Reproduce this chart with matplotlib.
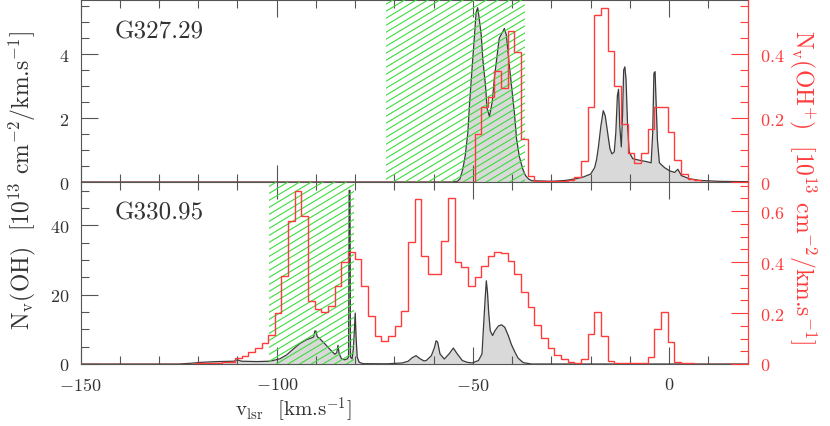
import numpy as np
import matplotlib
matplotlib.use("Agg")
import matplotlib.pyplot as plt
from matplotlib.collections import LineCollection
from matplotlib.ticker import MultipleLocator, FuncFormatter

plt.rcParams['font.family'] = ['cmr10', 'DejaVu Serif']
plt.rcParams['mathtext.fontset'] = 'cm'
plt.rcParams['axes.formatter.use_mathtext'] = True

# ---------------- data ----------------
sources = ["G327.29", "G330.95"]

# high-resolution OH spectra (velocity km/s, N_v in 1e13 cm-2/km/s)
black_top_v = [-150, -56, -54, -53.3, -52.6, -52.0, -51.3, -50.9, -50.2, -49.6, -49.2, -48.8, -48.4,
               -47.9, -47.5, -46.8, -46.4, -45.8, -45.1, -44.5, -43.9, -43.3, -42.4, -42.0, -41.5,
               -40.7, -40.0, -39.4, -38.9, -38.2, -37.3, -36.6, -35.8, -35.0, -30, -26.4, -23.9,
               -22, -20, -19, -18.5, -18.0, -17.4, -16.8, -16.3, -15.7, -15.1, -14.6, -14.0, -13.6,
               -13.2, -12.9, -12.6, -12.2, -11.9, -11.6, -11.3, -11.0, -10.6, -10.2, -9.3, -7.6,
               -5.9, -4.6, -4.2, -3.9, -3.6, -3.4, -3.0, -2.5, -1.2, 0.1, 1.4, 2.2, 3.1, 5.2, 7.7,
               12.8, 20]
black_top_n = [0, 0, 0.02, 0.1, 0.4, 0.8, 1.55, 2.4, 3.6, 4.6, 5.3, 5.45, 5.1,
               4.6, 3.85, 3.0, 2.3, 2.05, 2.5, 3.3, 3.9, 4.5, 4.7, 4.8, 4.6,
               3.6, 2.8, 2.1, 1.35, 0.8, 0.4, 0.2, 0.09, 0.04, 0.02, 0.05, 0.1,
               0.15, 0.25, 0.45, 0.7, 1.13, 1.76, 2.23, 2.07, 1.55, 1.04, 0.88, 0.94, 1.55,
               2.7, 2.9, 1.76, 1.1, 2.07, 3.5, 3.6, 3.2, 1.76, 0.94, 0.73, 0.68,
               0.64, 0.6, 1.55, 3.4, 3.45, 2.7, 1.3, 0.6, 0.45, 0.35, 0.3, 0.4, 0.2, 0.1, 0.05,
               0.02, 0.01]

black_bot_v = [-150, -125, -122, -119, -115, -111, -110, -109, -105, -102, -101, -99.2, -97.5,
               -95.9, -94.1, -92.4, -91.2, -90.6, -90.3, -90.0, -89.7, -89.2, -87.8, -86.5,
               -85.2, -84.7, -84.4, -84.1, -83.5, -82.7, -82.0, -81.7, -81.55, -81.35, -81.2,
               -80.8, -80.5, -80.3, -80.0, -79.8, -79.5, -79.0, -78.0, -72, -68, -66.5, -65.5,
               -64.5, -63.6, -62.5, -61.9, -60.6, -59.8, -59.4, -59.0, -58.4, -57.3, -56.1,
               -55.0, -54.0, -52.7, -51.5, -50.2, -48.6, -47.7, -47.3, -46.9, -46.6, -46.3,
               -46.0, -45.6, -45.0, -44.4, -43.5, -42.7, -41.9, -41.0, -40.2, -39.3, -38.5,
               -37.2, -35.1, 20]
black_bot_n = [0, 0, 0.2, 0.5, 0.7, 0.8, 1.2, 0.8, 0.7, 0.8, 1.0, 1.5, 2.6,
               4.2, 5.9, 7.0, 7.5, 7.8, 9.5, 9.5, 7.9, 7.5, 5.9, 4.3,
               2.8, 3.3, 5.4, 3.0, 1.5, 1.2, 1.5, 2.0, 50.1, 50.1, 2.0,
               1.5, 4.3, 8.0, 14.7, 8.0, 2.0, 0.5, 0.1, 0.05, 0.3, 0.8, 1.8,
               2.4, 1.6, 0.9, 1.0, 2.4, 4.8, 6.7, 6.3, 2.9, 1.44, 2.9,
               4.6, 2.9, 1.0, 0.5, 0.3, 1.0, 2.9, 11.0, 18.8, 24.0, 20.7,
               14.9, 9.6, 8.2, 9.6, 11.0, 11.3, 10.6, 8.2, 5.6, 3.4, 1.7,
               0.4, 0.0, 0.0]

# OH+ spectra: regular channels of width red_dv, first listed channel starts at red_*_start
red_grid_start = -149.67
red_grid_end = 19.93
red_dv = 1.696
red_top_start = -51.32
red_top = [0, 0.15, 0.234, 0.265, 0.348, 0.293, 0.473, 0.407, 0.134, 0.018,
           0.003, 0.002, 0.002, 0.002, 0.003, 0.007, 0.015, 0.067, 0.233, 0.523,
           0.543, 0.408, 0.30, 0.18, 0.09, 0.058, 0.09, 0.166, 0.233, 0.233,
           0.155, 0.07, 0.025, 0.01, 0.005]
red_bot_start = -120.84
red_bot = [0.002, 0.003, 0.004, 0.005, 0.006, 0.007, 0.022, 0.033, 0.048, 0.063,
           0.083, 0.115, 0.2, 0.346, 0.56, 0.68, 0.58, 0.248, 0.216, 0.203,
           0.229, 0.307, 0.399, 0.44, 0.41, 0.307, 0.19, 0.111, 0.091, 0.111,
           0.15, 0.209, 0.477, 0.647, 0.425, 0.353, 0.353, 0.484, 0.65, 0.40,
           0.38, 0.305, 0.34, 0.385, 0.425, 0.44, 0.435, 0.405, 0.353, 0.284,
           0.222, 0.154, 0.102, 0.062, 0.035, 0.02, 0.007, 0.005, 0.02, 0.118,
           0.205, 0.111, 0.013, 0.004, 0.004, 0.004, 0.004, 0.004, 0.026, 0.137,
           0.205, 0.088, 0.009, 0.003, 0.002, 0.001]

hatch_top = (-72.1, -36.7)
hatch_bot = (-102.0, -80.2)

xlim = (-150, 20)
ylim_left = [(0, 5.69), (0, 52.5)]
ylim_right = [(0, 0.569), (0, 0.714)]

# ---------------- style ----------------
GRAY = '#555555'
RED = '#ff3b3b'
GREEN = '#3cdc3c'
TXT = '#333333'

fig = plt.figure(figsize=(8.3, 4.27), dpi=100)
W, H = 830, 427
x0, x1 = 80.5, 747.7
axes_px = [(1, 183), (183, 365)]
axs = []
for (ytop, ybot) in axes_px:
    axs.append(fig.add_axes([x0 / W, 1 - ybot / H, (x1 - x0) / W, (ybot - ytop) / H]))


def full_red(start, vals):
    nb = int(round((red_grid_end - red_grid_start) / red_dv))
    i0 = int(round((start - red_grid_start) / red_dv))
    arr = np.zeros(nb)
    arr[i0:i0 + len(vals)] = vals
    edges = red_grid_start + red_dv * np.arange(nb + 1)
    return edges, arr


def add_hatch(ax, lo, hi):
    rect = ax.axvspan(lo, hi, facecolor='none', edgecolor='none', zorder=3)
    w = ax.bbox.width
    h = ax.bbox.height
    slope = 0.6
    sp = 7.0
    k = slope * w / h
    offs = np.arange(-k - 0.1, 1.1, sp / h)
    segs = [[(0, b), (1, b + k)] for b in offs]
    lc = LineCollection(segs, colors=GREEN, linewidths=0.8, transform=ax.transAxes, zorder=3)
    ax.add_collection(lc, autolim=False)
    lc.set_clip_path(rect)


fmt = FuncFormatter(lambda x, p: r'$%g$' % round(x, 6))

blacks = [(black_top_v, black_top_n), (black_bot_v, black_bot_n)]
reds = [(red_top_start, red_top), (red_bot_start, red_bot)]
hatches = [hatch_top, hatch_bot]
ymaj = [2, 20]
ymin = [0.5, 5]
label_y = [32, 213]

for i, ax in enumerate(axs):
    bv, bn = blacks[i]
    add_hatch(ax, *hatches[i])
    ax.fill_between(bv, bn, 0, color='#d9d9d9', lw=0, zorder=1)
    ax.plot(bv, bn, color='#3a3a3a', lw=0.9, zorder=2)
    ax.set_xlim(*xlim)
    ax.set_ylim(*ylim_left[i])
    ax.xaxis.set_major_locator(MultipleLocator(50))
    ax.xaxis.set_minor_locator(MultipleLocator(10))
    ax.yaxis.set_major_locator(MultipleLocator(ymaj[i]))
    ax.yaxis.set_minor_locator(MultipleLocator(ymin[i]))
    ax.xaxis.set_major_formatter(fmt)
    ax.yaxis.set_major_formatter(fmt)
    ax.tick_params(which='both', direction='in', top=True, right=False, colors=GRAY,
                   labelcolor=TXT, labelsize=13)
    ax.tick_params(which='major', length=12, width=0.8)
    ax.tick_params(which='minor', length=6, width=0.8)
    ax.tick_params(axis='y', pad=8)
    ax.tick_params(axis='x', pad=9)
    for s in ['left', 'top', 'bottom']:
        ax.spines[s].set_color(GRAY)
    ax.spines['right'].set_color(RED)
    if i == 0:
        ax.tick_params(labelbottom=False)

    axr = ax.twinx()
    start, vals = reds[i]
    edges, arr = full_red(start, vals)
    axr.stairs(arr, edges, color=RED, lw=1.0, baseline=None, zorder=4)
    axr.set_ylim(*ylim_right[i])
    axr.yaxis.set_major_locator(MultipleLocator(0.2))
    axr.yaxis.set_minor_locator(MultipleLocator(0.05))
    axr.yaxis.set_major_formatter(fmt)
    axr.tick_params(which='both', direction='in', colors=RED, labelcolor=RED, labelsize=13, pad=9)
    axr.tick_params(which='major', length=12, width=0.8)
    axr.tick_params(which='minor', length=6, width=0.8)
    for s in ['left', 'top', 'bottom']:
        axr.spines[s].set_visible(False)
    axr.spines['right'].set_color(RED)

    fig.text(115 / W, 1 - label_y[i] / H, sources[i], fontsize=18, color=TXT,
             ha='left', va='center')

fig.text(22 / W, 1 - 180 / H, r'N$_\mathrm{v}$(OH)  [10$^{13}$ cm$^{-2}$/km.s$^{-1}$]',
         rotation=90, ha='center', va='center', fontsize=17, color=TXT)
fig.text(803 / W, 1 - 187 / H, r'N$_\mathrm{v}$(OH$^{+}$)  [10$^{13}$ cm$^{-2}$/km.s$^{-1}$]',
         rotation=-90, ha='center', va='center', fontsize=17, color=RED)
fig.text(293 / W, 1 - 410 / H, r'v$_\mathrm{lsr}$  [km.s$^{-1}$]',
         ha='center', va='center', fontsize=15, color=TXT)

fig.savefig('out.png', dpi=100)
